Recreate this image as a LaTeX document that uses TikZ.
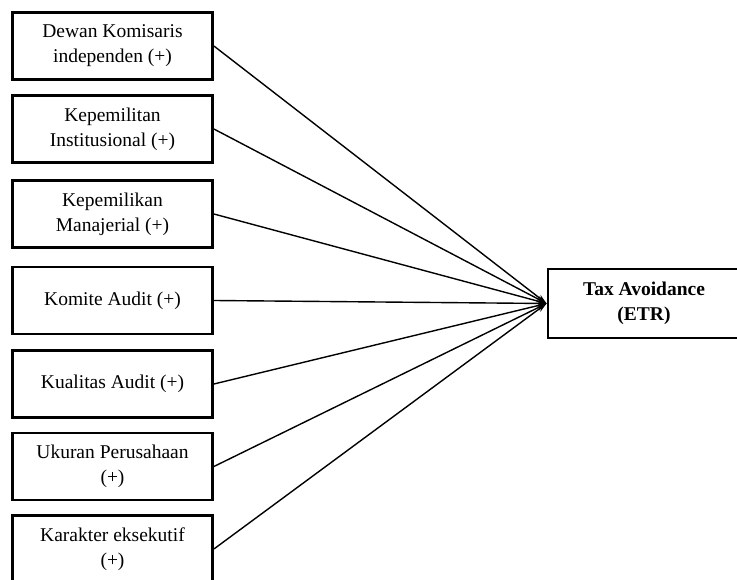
\documentclass[tikz,border=0pt]{standalone}
\usepackage{fontspec}
\setmainfont{Liberation Serif}
\usetikzlibrary{arrows.meta}

\begin{document}
\begin{tikzpicture}[x=1pt,y=-1pt,
  varbox/.style={draw,line width=2.8pt,minimum width=200pt,minimum height=67pt,
    align=center,inner sep=2pt,font=\fontsize{19.5}{25}\selectfont},
  link/.style={line width=1.4pt,-{Stealth[length=10pt,width=6pt]}}]
\useasboundingbox (0,0) rectangle (737,580);
\node[varbox] (dki) at (112.5,46) {Dewan Komisaris\\independen (+)};
\node[varbox] (ki) at (112.5,129) {Kepemilitan\\Institusional (+)};
\node[varbox] (km) at (112.5,214) {Kepemilikan\\Manajerial (+)};
\node[varbox] (ka) at (112.5,300.5) {Komite Audit (+)};
\node[varbox] (kua) at (112.5,384) {Kualitas Audit (+)};
\node[varbox] (up) at (112.5,466.5) {Ukuran Perusahaan\\(+)};
\node[varbox] (ke) at (112.5,549) {Karakter eksekutif\\(+)};
\node[varbox,minimum width=192pt,minimum height=69pt,font=\fontsize{19.5}{25}\selectfont\bfseries]
  (ta) at (644,303.5) {Tax Avoidance\\(ETR)};
\foreach \v in {dki,ki,km,ka,kua,up,ke}
  \draw[link] (\v.east) -- (ta.west);
\end{tikzpicture}
\end{document}
